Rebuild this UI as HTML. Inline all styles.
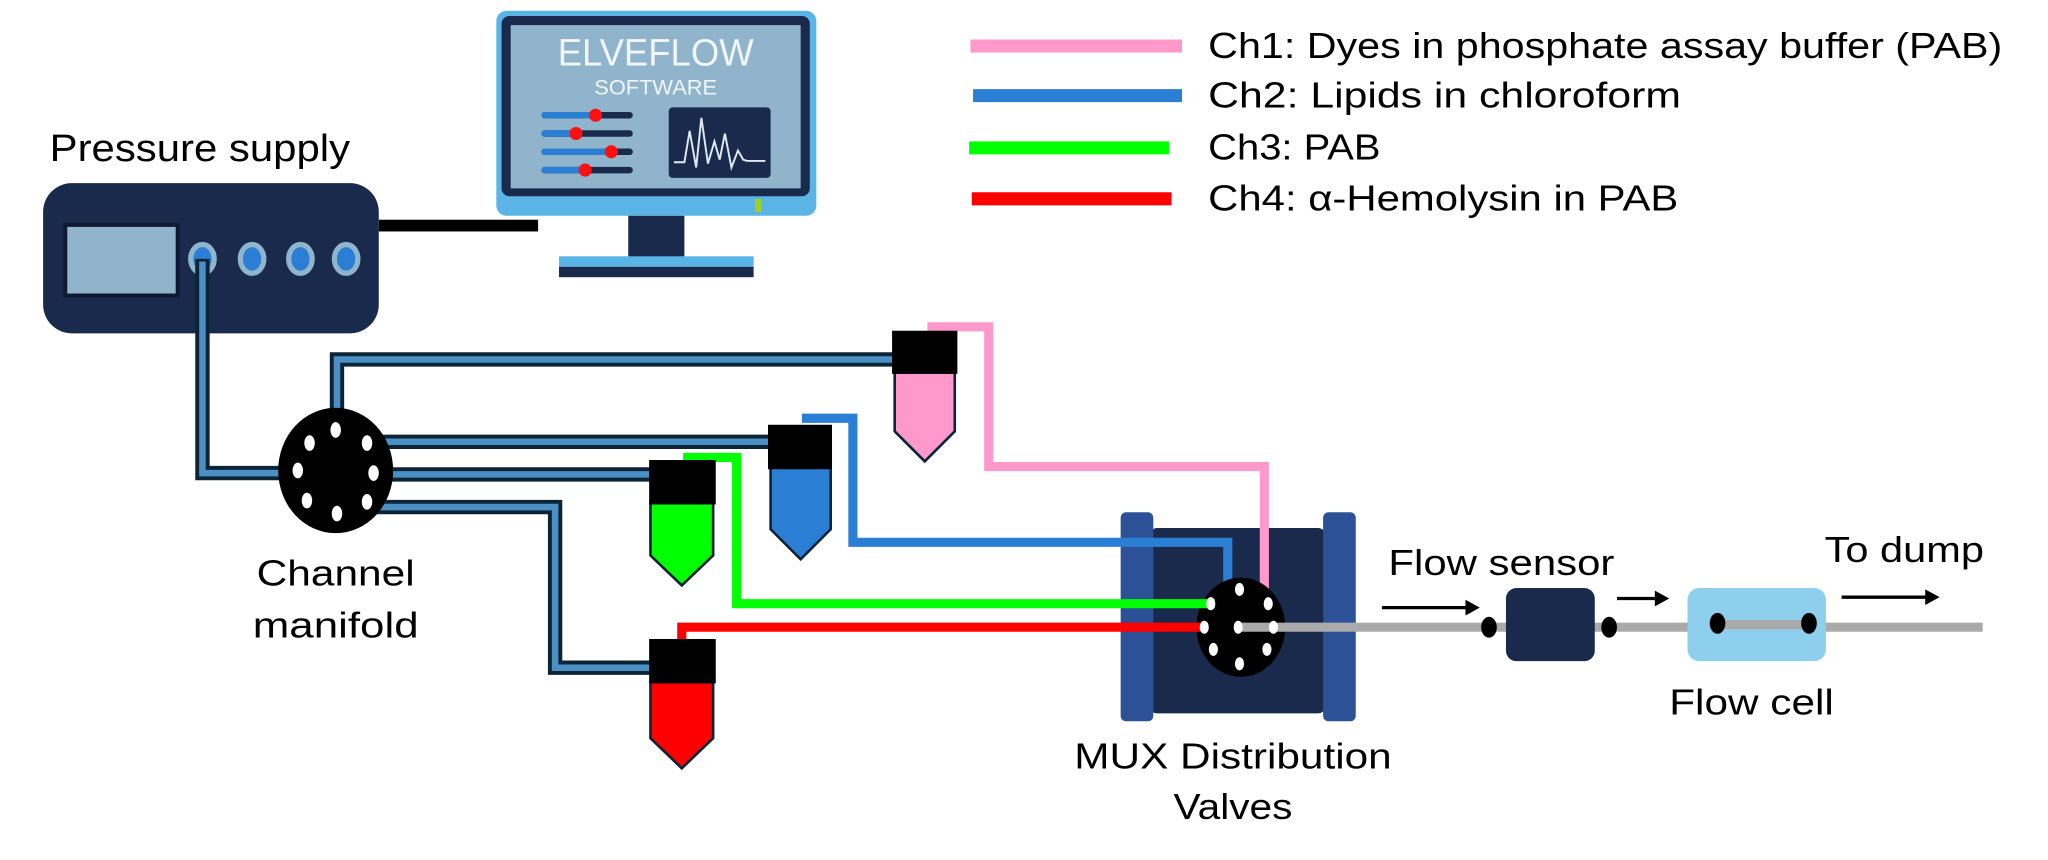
<!DOCTYPE html>
<html><head><meta charset="utf-8"><style>
html,body{margin:0;padding:0;background:#fff;}
svg{display:block;}
text{font-family:"Liberation Sans",sans-serif;fill:#000;}
</style></head><body>
<svg width="2048" height="860" viewBox="0 0 1568 658" xmlns="http://www.w3.org/2000/svg">
<rect width="1568" height="658" fill="#fff"/>
<!-- Legend -->
<line x1="743" y1="35" x2="905" y2="35" stroke="#ff99cc" stroke-width="10"/>
<line x1="745" y1="73" x2="905" y2="73" stroke="#2a7fd4" stroke-width="10"/>
<line x1="742" y1="113" x2="895" y2="113" stroke="#00ff00" stroke-width="10"/>
<line x1="744" y1="152" x2="897" y2="152" stroke="#ff0000" stroke-width="10"/>
<g font-size="28" lengthAdjust="spacingAndGlyphs">
<text x="925" y="44" textLength="608" lengthAdjust="spacingAndGlyphs">Ch1: Dyes in phosphate assay buffer (PAB)</text>
<text x="925" y="82" textLength="362" lengthAdjust="spacingAndGlyphs">Ch2: Lipids in chloroform</text>
<text x="925" y="122" textLength="132" lengthAdjust="spacingAndGlyphs">Ch3: PAB</text>
<text x="925" y="161" textLength="360" lengthAdjust="spacingAndGlyphs">Ch4: α-Hemolysin in PAB</text>
</g>

<!-- Pressure supply -->
<text x="38" y="123" font-size="29" textLength="230" lengthAdjust="spacingAndGlyphs">Pressure supply</text>
<rect x="290" y="168" width="122" height="9" fill="#000"/>
<rect x="33" y="140" width="257" height="115" rx="22" fill="#1a2a4c"/>
<rect x="50" y="172" width="86" height="54" fill="#8fb4cc" stroke="#0d1a30" stroke-width="3"/>
<g stroke="#8fb4cc" stroke-width="4" fill="#2a7fd4">
<ellipse cx="155" cy="198" rx="9" ry="11"/><ellipse cx="193" cy="198" rx="9" ry="11"/>
<ellipse cx="230" cy="198" rx="9" ry="11"/><ellipse cx="265" cy="198" rx="9" ry="11"/></g>

<!-- Monitor -->
<rect x="380" y="8" width="245" height="157" rx="8" fill="#5ab4e6"/>
<rect x="384" y="12" width="236" height="138" rx="6" fill="#1a2a4c"/>
<rect x="391" y="19" width="222" height="125" fill="#8fb4cc"/>
<rect x="578" y="152" width="5" height="10" fill="#a0d020"/>
<rect x="481" y="165" width="43" height="36" fill="#1a2a4c"/>
<rect x="428" y="196" width="149" height="8" fill="#5ab4e6"/>
<rect x="428" y="204" width="149" height="8" fill="#1a2a4c"/>
<text x="502" y="50" font-size="29" text-anchor="middle" style="fill:#f2f6f8" textLength="150" lengthAdjust="spacingAndGlyphs">ELVEFLOW</text>
<text x="502" y="72" font-size="16" text-anchor="middle" style="fill:#f2f6f8" textLength="94" lengthAdjust="spacingAndGlyphs">SOFTWARE</text>
<g stroke-linecap="round" stroke-width="5">
<line x1="417" y1="88" x2="482" y2="88" stroke="#1a2a4c"/><line x1="417" y1="88" x2="455" y2="88" stroke="#2a7fd4"/>
<line x1="417" y1="102" x2="482" y2="102" stroke="#1a2a4c"/><line x1="417" y1="102" x2="441" y2="102" stroke="#2a7fd4"/>
<line x1="417" y1="116" x2="482" y2="116" stroke="#1a2a4c"/><line x1="417" y1="116" x2="468" y2="116" stroke="#2a7fd4"/>
<line x1="417" y1="130" x2="482" y2="130" stroke="#1a2a4c"/><line x1="417" y1="130" x2="447" y2="130" stroke="#2a7fd4"/>
</g>
<g fill="#ff1010"><circle cx="456" cy="88" r="5"/><circle cx="441" cy="102" r="5"/><circle cx="468" cy="116" r="5"/><circle cx="448" cy="130" r="5"/></g>
<rect x="512" y="82" width="78" height="54" rx="3" fill="#1a2a4c"/>
<polyline points="516,124 524,124 528,100 533,128 537,90 542,125 547,108 551,122 555,102 560,128 565,115 569,122 572,123 586,123" fill="none" stroke="#e0e8ef" stroke-width="1.5"/>

<!-- Blue pressure tubes -->
<g fill="none" stroke-linejoin="miter">
<g stroke="#0d2436" stroke-width="11">
<polyline points="155,198 155,362 250,362"/>
<polyline points="258,332 258,275 690,275"/>
<polyline points="283,338 595,338"/>
<polyline points="290,363 500,363"/>
<polyline points="287,388 425,388 425,511 500,511"/>
</g>
<g stroke="#4a90c4" stroke-width="5">
<polyline points="155,200 155,362 250,362"/>
<polyline points="258,332 258,275 690,275"/>
<polyline points="283,338 595,338"/>
<polyline points="290,363 500,363"/>
<polyline points="287,388 425,388 425,511 500,511"/>
</g></g>

<!-- Channel manifold -->
<ellipse cx="257" cy="360" rx="44" ry="48" fill="#000"/>
<g fill="#fff">
<ellipse cx="257" cy="329" rx="4" ry="6"/><ellipse cx="237" cy="339" rx="4" ry="6"/><ellipse cx="281" cy="339" rx="4" ry="6"/>
<ellipse cx="228" cy="360" rx="4" ry="6"/><ellipse cx="286" cy="362" rx="4" ry="6"/>
<ellipse cx="235" cy="383" rx="4" ry="6"/><ellipse cx="281" cy="384" rx="4" ry="6"/><ellipse cx="258" cy="393" rx="4" ry="6"/>
</g>
<text x="257" y="448" font-size="28" text-anchor="middle" textLength="121" lengthAdjust="spacingAndGlyphs">Channel</text>
<text x="257" y="488" font-size="28" text-anchor="middle" textLength="127" lengthAdjust="spacingAndGlyphs">manifold</text>

<!-- MUX body (under lines) -->
<rect x="880" y="404" width="135" height="142" rx="6" fill="#1a2a4c"/>
<rect x="858" y="392" width="25" height="160" rx="4" fill="#2c5196"/>
<rect x="1013" y="392" width="25" height="160" rx="4" fill="#2c5196"/>

<!-- Colored lines -->
<g fill="none" stroke-width="7">
<polyline points="710,250 757,250 757,357 968,357 968,456" stroke="#ff99cc"/>
<polyline points="614,320 653,320 653,415 940,415 940,452" stroke="#2a7fd4"/>
</g>
<ellipse cx="950" cy="480" rx="34" ry="38" fill="#000"/>
<line x1="950" y1="480" x2="1518" y2="480" stroke="#aaa" stroke-width="7"/>
<g fill="none" stroke-width="7">
<polyline points="523,350 564,350 564,462 930,462" stroke="#00ff00"/>
<polyline points="522,490 522,480 925,480" stroke="#ff0000"/>
</g>
<g fill="#fff">
<ellipse cx="949" cy="451" rx="3.5" ry="5"/><ellipse cx="927" cy="462" rx="3.5" ry="5"/><ellipse cx="971" cy="462" rx="3.5" ry="5"/>
<ellipse cx="922" cy="480" rx="3.5" ry="5"/><ellipse cx="948" cy="480" rx="3.5" ry="5"/><ellipse cx="975" cy="480" rx="3.5" ry="5"/>
<ellipse cx="929" cy="497" rx="3.5" ry="5"/><ellipse cx="970" cy="497" rx="3.5" ry="5"/><ellipse cx="949" cy="508" rx="3.5" ry="5"/>
</g>

<!-- Vials -->
<g stroke="#0d2436" stroke-width="2">
<polygon points="685,285 731,285 731,330 708,353 685,330" fill="#ff99cc"/>
<polygon points="590,358 636,358 636,405 613,428 590,405" fill="#2a7fd4"/>
<polygon points="498,385 546,385 546,425 522,448 498,425" fill="#00ff00"/>
<polygon points="498,522 546,522 546,565 522,588 498,565" fill="#ff0000"/>
</g>
<rect x="683" y="253" width="50" height="33" fill="#000"/>
<rect x="588" y="325" width="49" height="34" fill="#000"/>
<rect x="497" y="352" width="51" height="34" fill="#000"/>
<rect x="497" y="489" width="51" height="34" fill="#000"/>

<text x="944" y="588" font-size="28" text-anchor="middle" textLength="243" lengthAdjust="spacingAndGlyphs">MUX Distribution</text>
<text x="944" y="627" font-size="28" text-anchor="middle" textLength="91" lengthAdjust="spacingAndGlyphs">Valves</text>

<!-- Flow sensor & cell -->
<rect x="1153" y="450" width="68" height="56" rx="8" fill="#1a2a4c"/>
<ellipse cx="1140" cy="480" rx="6" ry="8" fill="#000"/>
<ellipse cx="1232" cy="480" rx="6" ry="8" fill="#000"/>
<rect x="1292" y="450" width="106" height="56" rx="9" fill="#8ecfee"/>
<line x1="1315" y1="478" x2="1385" y2="478" stroke="#aaa" stroke-width="7"/>
<ellipse cx="1315" cy="477" rx="6" ry="8" fill="#000"/>
<ellipse cx="1385" cy="477" rx="6" ry="8" fill="#000"/>
<g stroke="#000" stroke-width="2.5">
<line x1="1058" y1="465" x2="1125" y2="465"/><line x1="1238" y1="458" x2="1270" y2="458"/><line x1="1410" y1="457" x2="1477" y2="457"/></g>
<g fill="#000">
<polygon points="1133,465 1122,459 1122,471"/><polygon points="1278,458 1267,452 1267,464"/><polygon points="1485,457 1474,451 1474,463"/></g>
<text x="1063" y="440" font-size="28" textLength="173" lengthAdjust="spacingAndGlyphs">Flow sensor</text>
<text x="1397" y="430" font-size="28" textLength="122" lengthAdjust="spacingAndGlyphs">To dump</text>
<text x="1341" y="547" font-size="28" text-anchor="middle" textLength="126" lengthAdjust="spacingAndGlyphs">Flow cell</text>
</svg>
</body></html>
